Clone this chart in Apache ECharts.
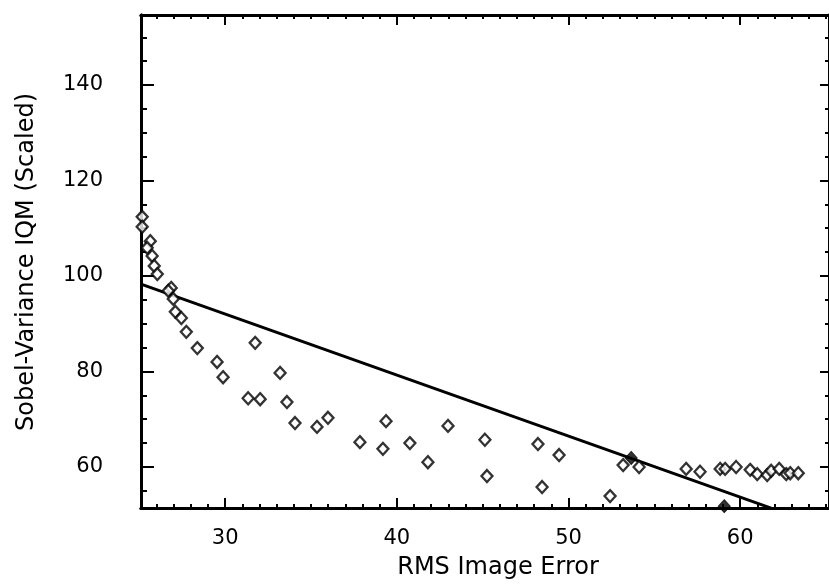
<!DOCTYPE html>
<html>
<head>
<meta charset="utf-8">
<script src="https://cdn.jsdelivr.net/npm/echarts@6/dist/echarts.min.js"></script>
<style>
  html, body { margin: 0; padding: 0; background: #fff; }
  #chart { width: 829px; height: 587px; }
</style>
</head>
<body>
<div id="chart"></div>
<script>
// Measured samples: RMS image error vs. scaled Sobel-variance IQM
const rmsError = [
  25.17, 25.17, 25.64, 25.46, 25.75, 25.87, 26.05, 26.86, 26.69, 26.98,
  27.10, 27.45, 27.74, 28.38, 29.53, 29.88, 31.75, 31.34, 32.04, 33.20,
  33.60, 34.07, 35.35, 35.99, 37.85, 39.19, 39.37, 40.76, 41.81, 42.98,
  45.13, 45.25, 48.22, 48.46, 49.45, 52.42, 53.18, 54.11, 56.85, 57.66,
  58.83, 59.12, 59.76, 60.58, 60.99, 61.57, 61.80, 62.27, 62.68, 62.91,
  63.38
];
const iqmScaled = [
  112.4, 110.3, 107.3, 105.9, 104.2, 102.1, 100.4, 97.5, 96.9, 95.2,
  92.5, 91.2, 88.3, 84.9, 82.0, 78.8, 86.0, 74.4, 74.2, 79.7,
  73.6, 69.2, 68.4, 70.3, 65.2, 63.8, 69.6, 65.0, 61.0, 68.6,
  65.7, 58.1, 64.8, 55.8, 62.5, 53.9, 60.4, 60.0, 59.6, 59.0,
  59.6, 59.6, 60.0, 59.4, 58.5, 58.3, 59.2, 59.6, 58.5, 58.7,
  58.7
];
// Overlapping samples that print as solid diamonds
const solidRms = [53.65, 59.07];
const solidIqm = [61.9, 51.8];

// Least-squares fit line end points
const fitRms = [25.1, 61.8];
const fitIqm = [98.3, 51.4];

// Axis extents and tick positions
const xRange = [25.1, 65.17];
const yRange = [51.41, 154.66];
const xMajorTicks = [30, 40, 50, 60];
const xMinorTicks = [26, 27, 28, 29, 30, 31, 32, 33, 34, 35, 36, 37, 38, 39, 40,
  41, 42, 43, 44, 45, 46, 47, 48, 49, 50, 51, 52, 53, 54, 55, 56, 57, 58, 59, 60,
  61, 62, 63, 64, 65];
const yMajorTicks = [60, 80, 100, 120, 140];
const yMinorTicks = [55, 60, 65, 70, 75, 80, 85, 90, 95, 100, 105, 110, 115, 120,
  125, 130, 135, 140, 145, 150];

const xTitle = 'RMS Image Error';
const yTitle = 'Sobel-Variance IQM (Scaled)';

const FONT = 'DejaVu Sans';
const INK = '#000';

function toPairs(xs, ys) {
  return xs.map((x, i) => [x, ys[i]]);
}

function makeAxis(kind, position, ticks, len, withLabels) {
  const ax = {
    type: 'value',
    position: position,
    min: kind === 'x' ? xRange[0] : yRange[0],
    max: kind === 'x' ? xRange[1] : yRange[1],
    splitLine: { show: false },
    axisLine: { show: true, onZero: false, lineStyle: { color: INK, width: 3 } },
    axisTick: {
      show: true, inside: true, length: len, customValues: ticks,
      lineStyle: { color: INK, width: 2 }
    },
    axisLabel: { show: false }
  };
  if (withLabels) {
    ax.axisLabel = {
      show: true,
      customValues: ticks,
      color: INK,
      fontFamily: FONT,
      fontSize: 21,
      margin: kind === 'x' ? 20 : 38
    };
  }
  return ax;
}

const chart = echarts.init(document.getElementById('chart'), null, { renderer: 'canvas' });

chart.setOption({
  backgroundColor: '#fff',
  animation: false,
  grid: { left: 141, right: 0, top: 15, bottom: 79, containLabel: false },
  xAxis: [
    makeAxis('x', 'bottom', xMajorTicks, 10, true),
    makeAxis('x', 'bottom', xMinorTicks, 4, false),
    makeAxis('x', 'top', xMajorTicks, 10, false),
    makeAxis('x', 'top', xMinorTicks, 4, false)
  ],
  yAxis: [
    makeAxis('y', 'left', yMajorTicks, 13, true),
    makeAxis('y', 'left', yMinorTicks, 6, false),
    makeAxis('y', 'right', yMajorTicks, 9, false),
    makeAxis('y', 'right', yMinorTicks, 4, false)
  ],
  graphic: [
    {
      type: 'text',
      x: 498, y: 568,
      style: {
        text: xTitle, fill: INK, font: '24px "' + FONT + '"',
        textAlign: 'center', textVerticalAlign: 'middle'
      }
    },
    {
      type: 'text',
      x: 27, y: 262, rotation: Math.PI / 2,
      style: {
        text: yTitle, fill: INK, font: '24px "' + FONT + '"',
        textAlign: 'center', textVerticalAlign: 'middle'
      }
    }
  ],
  series: [
    {
      type: 'line',
      data: toPairs(fitRms, fitIqm),
      showSymbol: false,
      clip: true,
      lineStyle: { color: INK, width: 3 },
      z: 2
    },
    {
      type: 'scatter',
      data: toPairs(rmsError, iqmScaled),
      symbol: 'diamond',
      symbolSize: [11, 12],
      clip: true,
      itemStyle: { color: '#fff', borderColor: INK, borderWidth: 2.3 },
      z: 3
    },
    {
      type: 'scatter',
      data: toPairs(solidRms, solidIqm),
      symbol: 'diamond',
      symbolSize: [12, 13],
      clip: true,
      itemStyle: { color: INK, borderColor: INK, borderWidth: 1 },
      z: 4
    }
  ]
});
</script>
</body>
</html>
